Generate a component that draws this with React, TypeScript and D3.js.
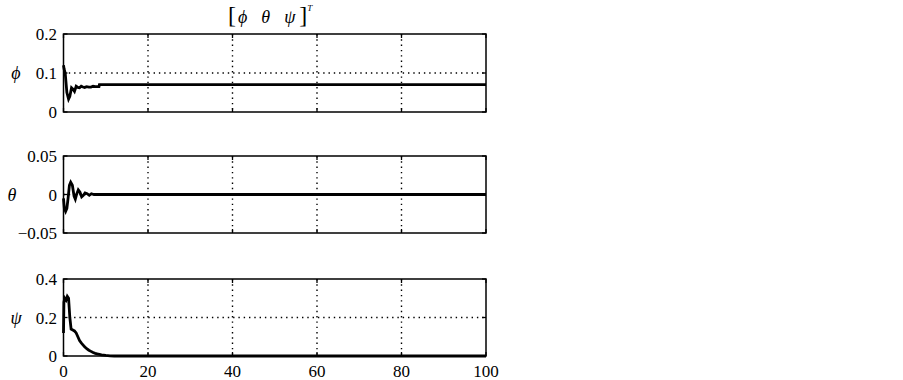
import React, { useEffect, useRef } from "react";
import * as d3 from "d3";

// time samples and values for each state
const phiT = [0, 0.15, 0.4, 0.8, 1.2, 1.5, 1.9, 2.3, 2.6, 3.0, 3.4, 3.8, 4.2, 4.6, 5.0, 5.5, 6.0, 6.5, 7.0, 7.5, 8.4, 8.5, 100];
const phiV = [0.12, 0.11, 0.1, 0.05, 0.033, 0.04, 0.062, 0.058, 0.053, 0.066, 0.063, 0.062, 0.066, 0.064, 0.063, 0.065, 0.064, 0.064, 0.066, 0.065, 0.065, 0.07, 0.07];

const thetaT = [0, 0.2, 0.5, 0.8, 1.1, 1.4, 1.7, 2.1, 2.5, 2.8, 3.1, 3.5, 3.9, 4.3, 4.7, 5.1, 5.6, 6.1, 6.6, 7.2, 100];
const thetaV = [-0.005, -0.018, -0.022, -0.018, -0.004, 0.012, 0.016, 0.012, -0.002, -0.006, 0.0, 0.006, 0.003, -0.003, -0.001, 0.002, 0.001, -0.001, 0.001, 0, 0];

const psiT = [0, 0.1, 0.3, 0.6, 0.9, 1.2, 1.5, 1.8, 2.2, 2.6, 3.0, 3.4, 3.8, 4.2, 4.6, 5.0, 5.5, 6.0, 6.5, 7.0, 7.5, 8.0, 9.0, 10.0, 11.0, 12.0, 100];
const psiV = [0.12, 0.28, 0.3, 0.29, 0.31, 0.3, 0.2, 0.14, 0.135, 0.13, 0.12, 0.1, 0.08, 0.068, 0.058, 0.048, 0.038, 0.03, 0.024, 0.018, 0.014, 0.011, 0.006, 0.003, 0.001, 0, 0];

const xTicks = [0, 20, 40, 60, 80, 100];
const phiTicks = [0, 0.1, 0.2];
const thetaTicks = [-0.05, 0, 0.05];
const psiTicks = [0, 0.2, 0.4];

const panels = [
  { label: "\u03D5", t: phiT, v: phiV, domain: [0, 0.2], ticks: phiTicks, top: 34, bottom: 112, fmt: (d: number) => (d === 0 ? "0" : String(d)) },
  { label: "\u03B8", t: thetaT, v: thetaV, domain: [-0.05, 0.05], ticks: thetaTicks, top: 156, bottom: 233, fmt: (d: number) => (d === 0 ? "0" : d < 0 ? "\u22120.05" : "0.05") },
  { label: "\u03C8", t: psiT, v: psiV, domain: [0, 0.4], ticks: psiTicks, top: 279, bottom: 356, fmt: (d: number) => (d === 0 ? "0" : String(d)) },
];

const App = () => {
  const ref = useRef<SVGSVGElement>(null);

  useEffect(() => {
    const svg = d3.select(ref.current);
    svg.selectAll("*").remove();
    const font = "Liberation Serif, serif";

    const x = d3.scaleLinear().domain([0, 100]).range([63.5, 486]);

    panels.forEach((p, i) => {
      const y = d3.scaleLinear().domain(p.domain).range([p.bottom, p.top]);
      const g = svg.append("g");

      // dotted grid
      xTicks.slice(1, -1).forEach((t) => {
        g.append("line")
          .attr("x1", x(t)).attr("x2", x(t))
          .attr("y1", p.top).attr("y2", p.bottom)
          .attr("stroke", "#000").attr("stroke-width", 1.4)
          .attr("stroke-dasharray", "1.4,3.9");
      });
      p.ticks.slice(1, -1).forEach((t) => {
        g.append("line")
          .attr("x1", x(0)).attr("x2", x(100))
          .attr("y1", y(t)).attr("y2", y(t))
          .attr("stroke", "#000").attr("stroke-width", 1.4)
          .attr("stroke-dasharray", "1.4,3.9");
      });

      // tick marks inside the box
      xTicks.forEach((t) => {
        g.append("line").attr("x1", x(t)).attr("x2", x(t)).attr("y1", p.bottom).attr("y2", p.bottom - 4).attr("stroke", "#000").attr("stroke-width", 1.3);
        g.append("line").attr("x1", x(t)).attr("x2", x(t)).attr("y1", p.top).attr("y2", p.top + 4).attr("stroke", "#000").attr("stroke-width", 1.3);
      });
      p.ticks.forEach((t) => {
        g.append("line").attr("x1", x(0)).attr("x2", x(0) + 4).attr("y1", y(t)).attr("y2", y(t)).attr("stroke", "#000").attr("stroke-width", 1.3);
        g.append("line").attr("x1", x(100)).attr("x2", x(100) - 4).attr("y1", y(t)).attr("y2", y(t)).attr("stroke", "#000").attr("stroke-width", 1.3);
      });

      // data line
      const pts = p.t.map((t, k) => [t, p.v[k]] as [number, number]);
      g.append("path")
        .datum(pts)
        .attr("fill", "none")
        .attr("stroke", "#000")
        .attr("stroke-width", 2.8)
        .attr("d", d3.line<[number, number]>().x((d) => x(d[0])).y((d) => y(d[1])));

      // box
      g.append("rect")
        .attr("x", x(0)).attr("y", p.top)
        .attr("width", x(100) - x(0)).attr("height", p.bottom - p.top)
        .attr("fill", "none").attr("stroke", "#000").attr("stroke-width", 1.5);

      // y tick labels
      p.ticks.forEach((t) => {
        g.append("text")
          .attr("x", 57).attr("y", y(t) + 6)
          .attr("text-anchor", "end")
          .attr("font-family", font).attr("font-size", 17)
          .text(p.fmt(t));
      });

      // y label
      g.append("text")
        .attr("x", i === 1 ? 12 : 16).attr("y", (p.top + p.bottom) / 2 + 6)
        .attr("text-anchor", "middle")
        .attr("font-family", font).attr("font-size", 18).attr("font-style", "italic")
        .text(p.label);

      if (i === 2) {
        xTicks.forEach((t) => {
          g.append("text")
            .attr("x", x(t)).attr("y", 377)
            .attr("text-anchor", "middle")
            .attr("font-family", font).attr("font-size", 17)
            .text(t);
        });
      }
    });

    // title [phi theta psi]^T
    const title = svg.append("text")
      .attr("x", 228).attr("y", 23)
      .attr("font-family", font).attr("font-size", 18);
    title.append("tspan").attr("font-size", 24).text("[");
    title.append("tspan").attr("font-style", "italic").attr("dx", 2).text("\u03D5");
    title.append("tspan").attr("font-style", "italic").attr("dx", 14).text("\u03B8");
    title.append("tspan").attr("font-style", "italic").attr("dx", 14).text("\u03C8");
    title.append("tspan").attr("font-size", 24).attr("dx", 4).text("]");
    title.append("tspan").attr("font-size", 9).attr("font-style", "italic").attr("dy", -12).text("T");
  }, []);

  return (
    <svg ref={ref} width={903} height={380} style={{ position: "absolute", left: 0, top: 0, background: "#fff" }} />
  );
};

export default App;
